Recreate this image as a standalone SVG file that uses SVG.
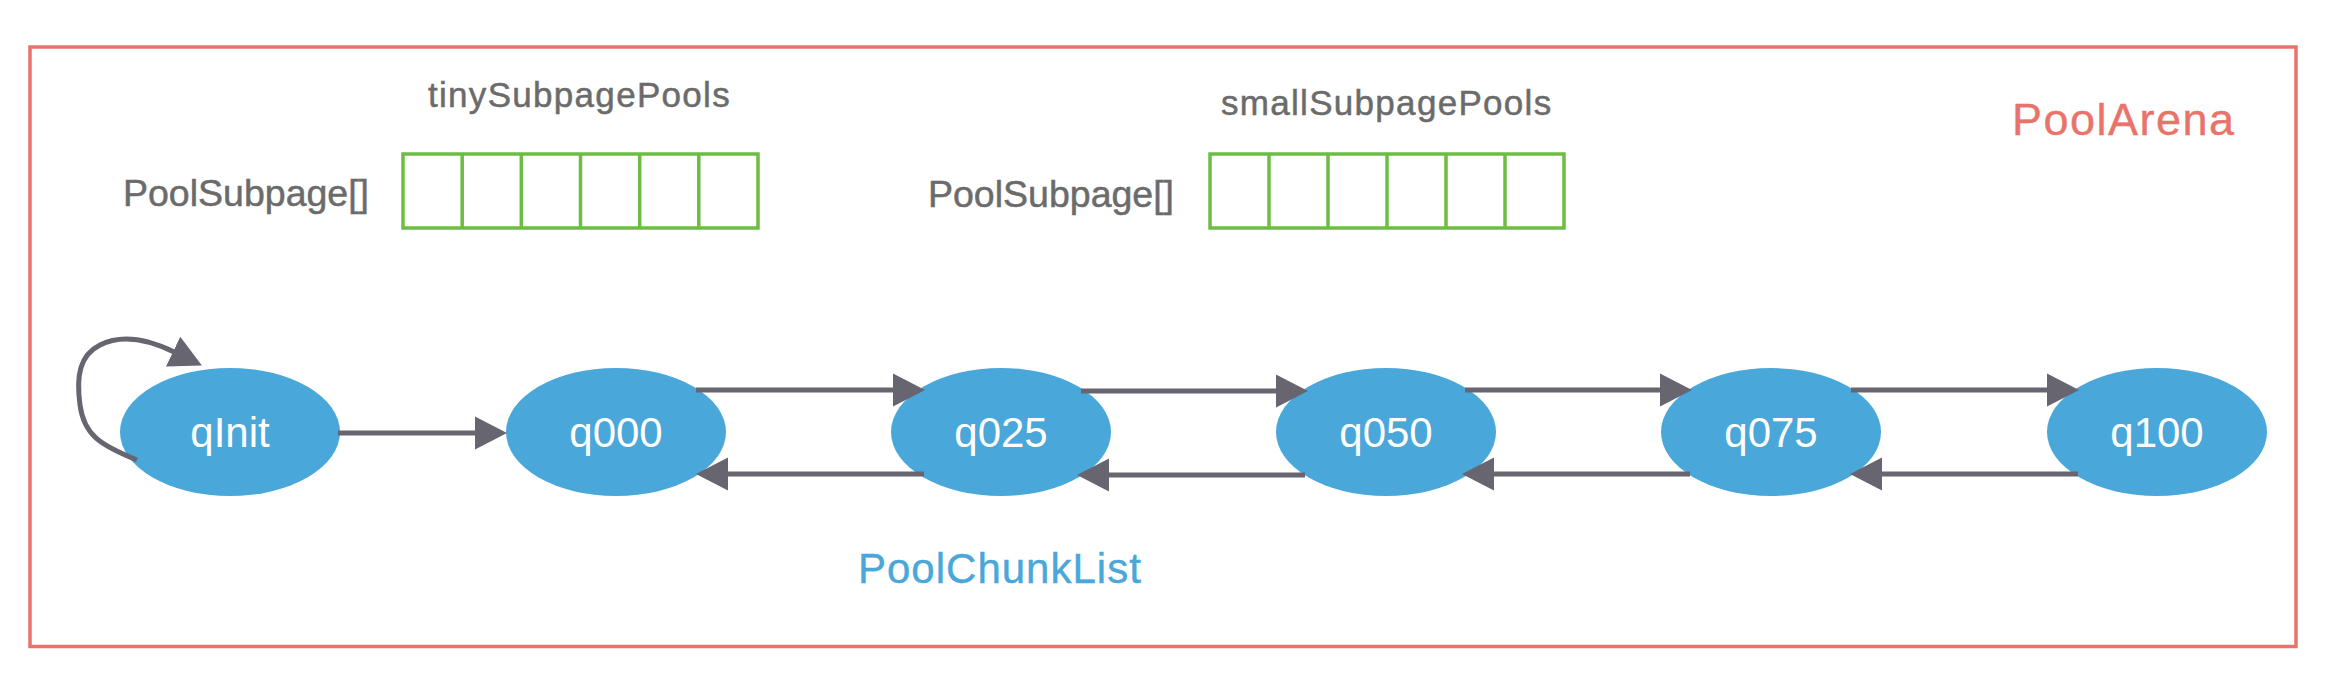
<svg xmlns="http://www.w3.org/2000/svg" width="2330" height="688" viewBox="0 0 2330 688">
<style>
.lbl{font-family:"Liberation Sans",Arial,sans-serif;fill:#6b6b6b;stroke:#6b6b6b;stroke-width:0.5}
.cell{fill:none;stroke:#6dbd45;stroke-width:3.5}
.node{fill:#4aa7da}
.ntxt{font-family:"Liberation Sans",Arial,sans-serif;font-size:42px;fill:#ffffff;text-anchor:middle}
.edge{fill:none;stroke:#676570;stroke-width:5;marker-end:url(#ah)}
</style>
<defs>
<marker id="ah" markerUnits="userSpaceOnUse" markerWidth="36" markerHeight="36" viewBox="0 -18 36 36" refX="1" refY="0" orient="auto">
<path d="M0,-16.5 L32,0 L0,16.5 Z" fill="#676570"/>
</marker>
</defs>
<rect width="2330" height="688" fill="#ffffff"/>
<g id="poolArena">
<rect x="30" y="47" width="2266" height="599.5" fill="none" stroke="#e9736a" stroke-width="3.5"/>
<text x="2012" y="135" font-family="Liberation Sans,Arial,sans-serif" font-size="45" letter-spacing="1.5" fill="#e9736a" stroke="#e9736a" stroke-width="0.4">PoolArena</text>
</g>
<g id="tinySubpagePools">
<text class="lbl" x="428" y="107" font-size="35" letter-spacing="1.3">tinySubpagePools</text>
<text class="lbl" x="123" y="206" font-size="37.5">PoolSubpage[]</text>
<rect class="cell" x="403" y="154" width="355" height="74"/>
<path class="cell" d="M462.2,154V228M521.3,154V228M580.5,154V228M639.7,154V228M698.8,154V228"/>
</g>
<g id="smallSubpagePools">
<text class="lbl" x="1221" y="115" font-size="35" letter-spacing="1.3">smallSubpagePools</text>
<text class="lbl" x="928" y="207" font-size="37.5">PoolSubpage[]</text>
<rect class="cell" x="1210" y="154" width="354" height="74"/>
<path class="cell" d="M1269,154V228M1328,154V228M1387,154V228M1446,154V228M1505,154V228"/>
</g>
<g id="poolChunkList">
<text x="858" y="583" font-family="Liberation Sans,Arial,sans-serif" font-size="42" letter-spacing="1" fill="#4aa7da" stroke="#4aa7da" stroke-width="0.4">PoolChunkList</text>
</g>
<g id="qInit"><ellipse class="node" cx="230" cy="432" rx="110" ry="64"/><text class="ntxt" x="230" y="447">qInit</text></g>
<g id="q000"><ellipse class="node" cx="616" cy="432" rx="110" ry="64"/><text class="ntxt" x="616" y="447">q000</text></g>
<g id="q025"><ellipse class="node" cx="1001" cy="432" rx="110" ry="64"/><text class="ntxt" x="1001" y="447">q025</text></g>
<g id="q050"><ellipse class="node" cx="1386" cy="432" rx="110" ry="64"/><text class="ntxt" x="1386" y="447">q050</text></g>
<g id="q075"><ellipse class="node" cx="1771" cy="432" rx="110" ry="64"/><text class="ntxt" x="1771" y="447">q075</text></g>
<g id="q100"><ellipse class="node" cx="2157" cy="432" rx="110" ry="64"/><text class="ntxt" x="2157" y="447">q100</text></g>
<g id="connectors">
<path class="edge" d="M137,460 C100,445 84,435 80,405 C76,375 80,355 100,345 C120,335 145,338 174,352"/>
<path class="edge" d="M338,433 H476"/>
<path class="edge" d="M696,390 H894"/>
<path class="edge" d="M1081,391 H1277"/>
<path class="edge" d="M1465,390 H1661"/>
<path class="edge" d="M1851,390 H2048"/>
<path class="edge" d="M924,474 H727"/>
<path class="edge" d="M1305,475 H1108"/>
<path class="edge" d="M1690,474 H1493"/>
<path class="edge" d="M2078,474 H1881"/>
</g>
</svg>
